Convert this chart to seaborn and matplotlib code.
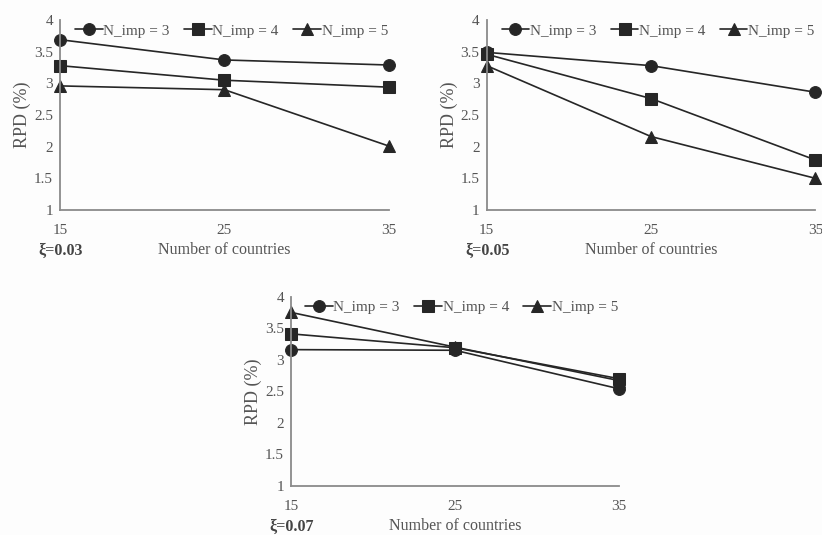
import numpy as np
import pandas as pd
import seaborn as sns
import matplotlib
matplotlib.use("Agg")
import matplotlib.pyplot as plt

sns.set_theme(style="white")
plt.rcParams['font.family'] = ['Liberation Serif', 'DejaVu Serif']

# data
countries = [15, 25, 35]
series_names = ["N_imp = 3", "N_imp = 4", "N_imp = 5"]
xi_labels = ["ξ=0.03", "ξ=0.05", "ξ=0.07"]

rpd_003 = [[3.69, 3.37, 3.29], [3.28, 3.05, 2.94], [2.96, 2.90, 2.01]]
rpd_005 = [[3.49, 3.28, 2.86], [3.46, 2.76, 1.79], [3.28, 2.16, 1.50]]
rpd_007 = [[3.16, 3.15, 2.54], [3.41, 3.19, 2.70], [3.75, 3.20, 2.67]]

panels = [rpd_003, rpd_005, rpd_007]

text_col = "#555555"
line_col = "#262626"
spine_col = "#8a8a8a"

fig = plt.figure(figsize=(8.22, 5.35), dpi=100)
fig.patch.set_facecolor("#fdfdfd")
boxes = [[0.073, 0.6075, 0.400, 0.355],
         [0.592, 0.6075, 0.400, 0.355],
         [0.354, 0.0916, 0.399, 0.354]]

for box, vals, xi in zip(boxes, panels, xi_labels):
    ax = fig.add_axes(box)
    ax.set_facecolor("#fdfdfd")
    rows = []
    for name, v in zip(series_names, vals):
        for c, y in zip(countries, v):
            rows.append({"countries": c, "rpd": y, "series": name})
    df = pd.DataFrame(rows)
    sns.lineplot(data=df, x="countries", y="rpd", hue="series", style="series",
                 markers=["o", "s", "^"], dashes=False,
                 palette=[line_col] * 3, markersize=8.5, linewidth=1.2,
                 markeredgecolor=line_col, ax=ax)
    ax.set_xlim(15, 35)
    ax.set_ylim(1, 4)
    ax.set_xticks(countries)
    ax.set_yticks([1, 1.5, 2, 2.5, 3, 3.5, 4])
    ax.set_yticklabels(["1", "1.5", "2", "2.5", "3", "3.5", "4"])
    for s in ["top", "right"]:
        ax.spines[s].set_visible(False)
    for s in ["left", "bottom"]:
        ax.spines[s].set_color(spine_col)
        ax.spines[s].set_linewidth(1.3)
    ax.tick_params(axis="x", direction="in", length=4, color=spine_col,
                   labelsize=11, labelcolor=text_col, pad=10)
    ax.tick_params(axis="y", length=0, labelsize=11, labelcolor=text_col, pad=5)
    for m in ax.lines:
        m.set_clip_on(False)
    ax.set_xlabel("Number of countries", fontsize=11.5, color=text_col, labelpad=4)
    ax.set_ylabel("RPD (%)", fontsize=13, color=text_col, labelpad=2)
    ax.text(-0.065, -0.215, xi, transform=ax.transAxes, fontsize=11.5,
            fontweight="bold", color="#444444", va="center", ha="left")
    leg = ax.legend(loc="upper right", bbox_to_anchor=(1.03, 1.035), ncol=3,
                    frameon=False, fontsize=11, handlelength=1.8,
                    handletextpad=0.05, columnspacing=0.95, borderpad=0.2)
    for t in leg.get_texts():
        t.set_color(text_col)

plt.savefig("out.png", dpi=100, facecolor=fig.get_facecolor())
